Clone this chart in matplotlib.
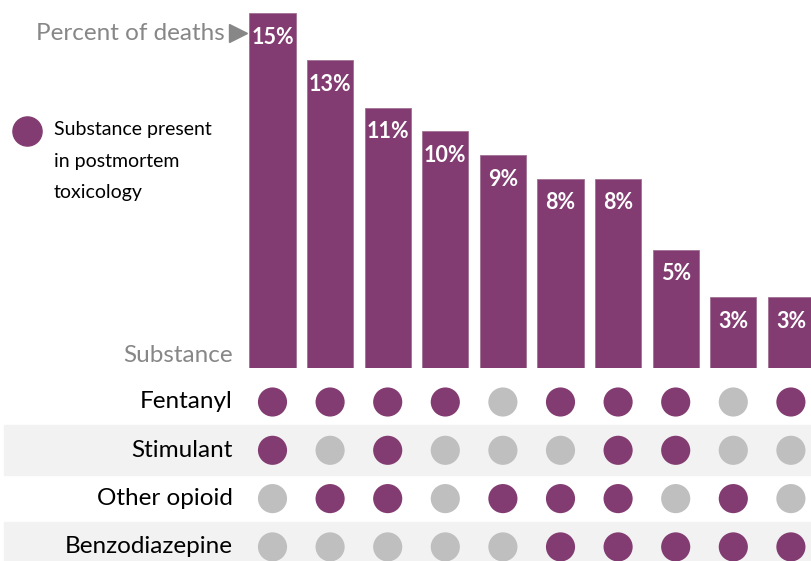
import numpy as np
import matplotlib.pyplot as plt

# share of deaths for each substance combination
pct = [15, 13, 11, 10, 9, 8, 8, 5, 3, 3]
substances = ['Fentanyl', 'Stimulant', 'Other opioid', 'Benzodiazepine']
# 1 = substance present in postmortem toxicology
present = [
    [1, 1, 1, 1, 0, 1, 1, 1, 0, 1],
    [1, 0, 1, 0, 0, 0, 1, 1, 0, 0],
    [0, 1, 1, 0, 1, 1, 1, 0, 1, 0],
    [0, 0, 0, 0, 0, 1, 1, 1, 1, 1],
]

purple = '#833c71'
light = '#bfbfbf'
band = '#f2f2f2'
grey_txt = '#878787'

W, H = 812, 561
fig = plt.figure(figsize=(W / 100, H / 100), dpi=100)

# column layout in pixels
x0, step = 272.5, 57.6
xlim = ((0 - x0) / step, (W - x0) / step)
base = 368          # bar baseline, px from top
px_per_pct = 23.67

ax = fig.add_axes([0, (H - base) / H, 1, base / H])
ax.set_xlim(*xlim)
ax.set_ylim(0, base / px_per_pct)
ax.axis('off')

idx = np.arange(len(pct))
ax.bar(idx, pct, width=0.8, color=purple, edgecolor='#a07093', linewidth=0.6)
for i, v in zip(idx, pct):
    ax.annotate(f'{v}%', (i, v), xytext=(0, -17.5), textcoords='offset points',
                ha='center', va='center', color='white', fontsize=15.5,
                fontweight='bold', family='Lato')

ax.text(225 / W, (base - 33) / base, 'Percent of deaths', transform=ax.transAxes,
        ha='right', va='center', color=grey_txt, fontsize=17.5, family='Lato')
ax.plot([238 / W], [(base - 33) / base], marker='>', ms=13, color=grey_txt,
        transform=ax.transAxes, clip_on=False)
ax.text(233 / W, (base - 356) / base, 'Substance', transform=ax.transAxes,
        ha='right', va='center', color=grey_txt, fontsize=17.5, family='Lato')

# legend
ax.scatter([27 / W], [(base - 131) / base], s=440, color=purple,
           transform=ax.transAxes, clip_on=False)
ax.text(54 / W, (base - 161) / base,
        'Substance present\nin postmortem\ntoxicology', transform=ax.transAxes,
        ha='left', va='center', fontsize=14, family='Lato', linespacing=2.05)

# dot matrix
row0, row_step = 402, 48.3
ax2 = fig.add_axes([0, 0, 1, (H - base) / H])
ax2.set_xlim(*xlim)
ax2.set_ylim((H - row0) / row_step, (base - row0) / row_step)
ax2.axis('off')

for r, name in enumerate(substances):
    if r % 2 == 1:
        ax2.axhspan(r - 0.52, r + 0.52, xmin=4 / W, xmax=1, color=band, zorder=0)
    cols = [purple if p else light for p in present[r]]
    ax2.scatter(idx, [r] * len(idx), s=440, color=cols, zorder=2, linewidths=0)
    ax2.text((233 - x0) / step, r, name, ha='right', va='center',
             fontsize=17.5, family='Lato', color='black')

fig.savefig('out.png', dpi=100)
